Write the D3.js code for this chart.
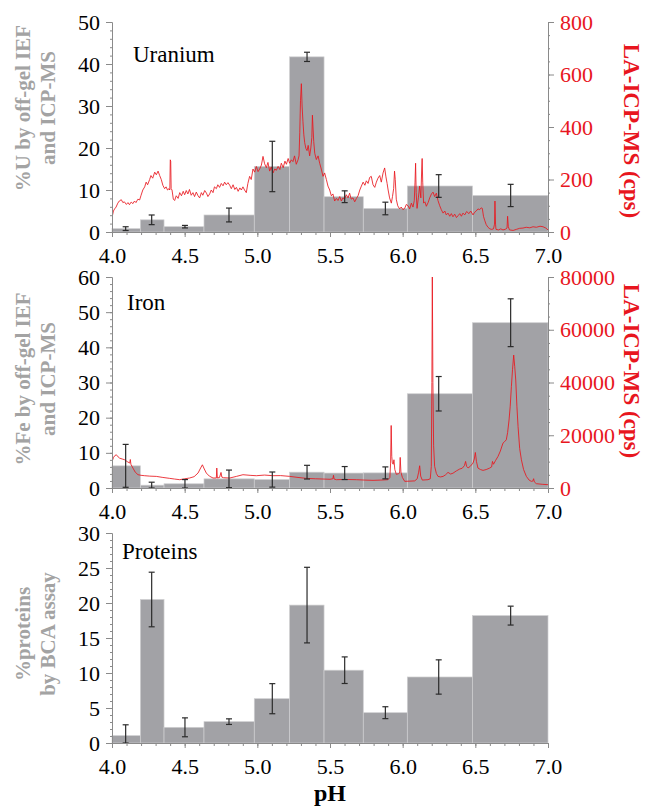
<!DOCTYPE html>
<html>
<head>
<meta charset="utf-8">
<style>
  body { margin: 0; background: #fff; }
  #chart text { font-family: "Liberation Serif", serif; }
</style>
</head>
<body>
<svg id="chart" width="645" height="806"></svg>
<script src="https://cdn.jsdelivr.net/npm/d3@7"></script>
<script>
// off-gel IEF fractions (pH edges of each fraction)
const binEdges = [4.0, 4.195, 4.358, 4.633, 4.979, 5.222, 5.459, 5.729, 6.032, 6.48, 7.0]
const errPH = [4.094, 4.273, 4.502, 4.805, 5.103, 5.342, 5.601, 5.881, 6.248, 6.743]

const uPercent = [0.8, 2.9, 1.27, 4.05, 15.6, 41.7, 8.4, 5.6, 10.95, 8.7]
const uErr = [0.45, 1.15, 0.3, 1.65, 6.0, 1.1, 1.4, 1.5, 2.7, 2.65]

const fePercent = [6.3, 0.8, 1.2, 2.6, 2.4, 4.5, 4.25, 4.3, 26.8, 47.0]
const feErr = [6.1, 0.85, 1.2, 2.5, 2.15, 1.95, 1.85, 1.7, 4.9, 6.8]

const protPercent = [1.05, 20.5, 2.24, 3.05, 6.33, 19.7, 10.4, 4.33, 9.43, 18.2]
const protErr = [1.55, 3.9, 1.35, 0.4, 2.15, 5.4, 1.9, 0.85, 2.45, 1.35]

const xTicks = [4.0, 4.5, 5.0, 5.5, 6.0, 6.5, 7.0]

// LA-ICP-MS scans [pH, cps]
const uTrace = [
  [4.000,55],[4.010,80],[4.018,88],[4.028,95],[4.040,110],[4.050,118],[4.064,123],[4.075,112],
  [4.085,115],[4.099,105],[4.110,112],[4.120,104],[4.132,114],[4.144,108],[4.155,118],[4.165,112],
  [4.178,125],[4.190,122],[4.200,140],[4.212,160],[4.225,172],[4.235,190],[4.245,180],[4.259,200],
  [4.268,215],[4.280,205],[4.294,228],[4.305,218],[4.317,232],[4.328,215],[4.339,200],[4.350,178],
  [4.362,165],[4.372,172],[4.382,160],[4.392,165],[4.398,160],[4.401,275],[4.404,270],[4.407,165],
  [4.413,160],[4.422,125],[4.431,120],[4.442,138],[4.455,128],[4.466,150],[4.478,138],[4.490,155],
  [4.500,142],[4.511,158],[4.522,145],[4.533,162],[4.545,140],[4.557,150],[4.568,135],[4.580,152],
  [4.592,138],[4.603,130],[4.615,150],[4.625,140],[4.638,158],[4.650,148],[4.660,135],[4.672,145],
  [4.683,160],[4.695,150],[4.705,172],[4.718,165],[4.728,180],[4.740,170],[4.752,185],[4.764,176],
  [4.775,190],[4.786,180],[4.798,188],[4.810,178],[4.821,165],[4.833,180],[4.845,162],[4.856,170],
  [4.868,155],[4.880,168],[4.890,160],[4.901,172],[4.912,160],[4.924,150],[4.935,185],[4.947,212],
  [4.958,200],[4.970,240],[4.982,228],[4.993,250],[5.005,230],[5.016,240],[5.028,255],[5.039,288],
  [5.050,260],[5.062,245],[5.073,265],[5.085,232],[5.096,248],[5.108,225],[5.120,240],[5.131,235],
  [5.143,250],[5.155,238],[5.165,262],[5.178,245],[5.190,270],[5.200,258],[5.212,280],[5.222,262],
  [5.234,275],[5.245,268],[5.256,290],[5.268,258],[5.280,275],[5.287,290],[5.292,380],[5.297,500],
  [5.303,565],[5.308,480],[5.314,420],[5.320,370],[5.326,340],[5.334,318],[5.342,310],[5.350,330],
  [5.360,290],[5.368,320],[5.375,360],[5.379,445],[5.383,400],[5.388,345],[5.395,300],[5.406,276],
  [5.418,290],[5.429,262],[5.440,240],[5.452,212],[5.463,225],[5.475,200],[5.486,175],[5.498,160],
  [5.509,138],[5.520,145],[5.532,118],[5.544,128],[5.555,120],[5.567,135],[5.578,118],[5.589,130],
  [5.600,125],[5.612,142],[5.624,130],[5.635,148],[5.646,125],[5.658,130],[5.670,115],[5.682,128],
  [5.693,138],[5.705,160],[5.716,175],[5.728,190],[5.740,178],[5.750,195],[5.762,185],[5.773,208],
  [5.784,212],[5.796,180],[5.808,170],[5.819,190],[5.830,205],[5.842,215],[5.853,190],[5.865,225],
  [5.876,244],[5.885,210],[5.893,185],[5.900,160],[5.910,130],[5.922,110],[5.930,135],[5.938,165],
  [5.944,232],[5.949,200],[5.956,125],[5.966,100],[5.979,88],[5.990,95],[6.002,85],[6.014,90],
  [6.025,105],[6.037,100],[6.048,88],[6.060,110],[6.071,95],[6.080,120],[6.085,190],[6.089,262],
  [6.093,150],[6.099,90],[6.108,130],[6.117,175],[6.125,130],[6.131,240],[6.134,280],[6.138,190],
  [6.144,110],[6.153,115],[6.163,98],[6.175,112],[6.186,130],[6.198,145],[6.209,152],[6.220,135],
  [6.232,148],[6.243,120],[6.255,100],[6.266,85],[6.278,72],[6.290,80],[6.300,65],[6.312,72],
  [6.324,60],[6.335,70],[6.346,58],[6.358,68],[6.370,55],[6.381,62],[6.393,70],[6.404,60],
  [6.415,72],[6.427,65],[6.440,78],[6.456,70],[6.468,80],[6.484,65],[6.495,75],[6.506,80],
  [6.518,88],[6.530,85],[6.540,92],[6.548,90],[6.556,60],[6.564,45],[6.575,28],[6.587,18],
  [6.600,12],[6.612,10],[6.625,12],[6.632,30],[6.635,118],[6.639,30],[6.642,10],[6.660,8],
  [6.675,12],[6.690,8],[6.705,10],[6.718,15],[6.722,60],[6.727,20],[6.735,8],[6.760,6],
  [6.782,10],[6.805,14],[6.828,15],[6.850,18],[6.875,16],[6.897,20],[6.920,18],[6.945,22],
  [6.966,20],[6.985,15],[7.000,8]
]

const feTrace = [
  [4.000,10000],[4.010,11500],[4.018,12200],[4.030,12600],[4.042,11800],[4.053,11300],[4.070,11000],
  [4.087,10700],[4.105,10000],[4.122,9450],[4.126,10800],[4.130,9000],[4.144,7560],[4.160,6000],
  [4.179,5040],[4.200,4800],[4.225,4660],[4.260,4500],[4.305,4400],[4.350,4000],[4.397,3650],
  [4.430,3400],[4.466,3150],[4.500,3500],[4.534,3780],[4.565,4300],[4.592,5670],[4.610,7600],
  [4.622,8800],[4.635,7200],[4.649,5670],[4.670,4500],[4.695,3780],[4.718,3800],[4.721,7560],
  [4.725,3800],[4.740,4000],[4.750,5900],[4.756,4100],[4.768,3900],[4.810,3780],[4.856,4400],
  [4.901,5040],[4.950,4800],[4.993,4660],[5.050,4900],[5.108,4660],[5.160,4700],[5.222,4410],
  [5.280,4000],[5.337,3650],[5.400,3500],[5.452,3400],[5.500,3300],[5.520,3500],[5.524,4800],
  [5.528,3400],[5.544,3150],[5.600,3250],[5.681,3150],[5.740,3000],[5.796,2900],[5.850,3000],
  [5.899,3150],[5.912,4000],[5.917,9450],[5.921,23700],[5.925,12000],[5.929,9450],[5.935,9000],
  [5.940,10700],[5.946,7000],[5.956,5200],[5.970,5400],[5.979,5670],[5.983,11600],[5.988,6000],
  [5.998,4000],[6.014,2520],[6.050,2600],[6.083,2700],[6.100,3500],[6.110,6000],[6.117,8440],
  [6.124,4500],[6.135,3000],[6.174,3150],[6.190,3500],[6.197,8190],[6.201,40000],[6.204,80000],
  [6.208,40000],[6.213,16000],[6.220,8190],[6.232,5500],[6.243,4410],[6.260,4200],[6.278,4400],
  [6.295,5000],[6.312,5920],[6.330,5300],[6.346,5600],[6.370,6500],[6.392,7180],[6.410,7500],
  [6.425,8500],[6.433,10080],[6.440,8200],[6.450,7600],[6.465,8200],[6.484,9450],[6.493,11000],
  [6.500,13480],[6.508,10000],[6.518,7560],[6.535,7000],[6.553,6680],[6.575,7000],[6.599,7560],
  [6.612,8000],[6.618,10080],[6.625,9000],[6.640,10500],[6.656,11970],[6.672,14000],[6.690,17000],
  [6.700,17500],[6.713,18270],[6.722,21000],[6.732,25800],[6.740,31000],[6.748,38430],[6.756,45000],
  [6.764,50400],[6.771,46000],[6.778,40950],[6.786,31000],[6.794,23310],[6.805,15000],[6.817,10700],
  [6.832,7000],[6.851,4410],[6.870,3000],[6.885,2520],[6.895,2600],[6.901,3530],[6.906,2300],
  [6.920,1640],[6.960,1400],[7.000,1260]
]

const serif = '"Liberation Serif"'
const svg = d3.select('#chart')
const x = d3.scaleLinear().domain([4, 7]).range([112, 548])

const panels = [
  { name: 'Uranium', top: 22, bottom: 232, yMax: 50, yStep: 10, yMinor: 2,
    values: uPercent, errs: uErr, trace: uTrace, rMax: 800, rStep: 200, rMinor: 50,
    title: ['%U by off-gel IEF', 'and ICP-MS'], titleY: 108, rTitleY: 131, labelPos: [133, 62] },
  { name: 'Iron', top: 277, bottom: 488, yMax: 60, yStep: 10, yMinor: 2,
    values: fePercent, errs: feErr, trace: feTrace, rMax: 80000, rStep: 20000, rMinor: 5000,
    title: ['%Fe by off-gel IEF', 'and ICP-MS'], titleY: 379, rTitleY: 371, labelPos: [127, 310] },
  { name: 'Proteins', top: 533, bottom: 743, yMax: 30, yStep: 5, yMinor: 1,
    values: protPercent, errs: protErr, trace: null,
    title: ['%proteins', 'by BCA assay'], titleY: 634, labelPos: [122, 559] }
]

const axisColor = '#8a8a8a'

function styleAxis(g, color) {
  g.attr('font-size', 22).attr('font-family', null)
  g.select('.domain').attr('stroke', axisColor).attr('stroke-width', 1)
  g.selectAll('.tick line').attr('stroke', axisColor)
  g.selectAll('.tick text').attr('fill', color).style('font-family', serif)
}

panels.forEach((p, i) => {
  const y = d3.scaleLinear().domain([0, p.yMax]).range([p.bottom, p.top])
  const g = svg.append('g')

  const clipId = 'clip' + i
  svg.append('clipPath').attr('id', clipId)
    .append('rect').attr('x', 112).attr('y', p.top).attr('width', 436).attr('height', p.bottom - p.top)

  // fraction bars
  g.selectAll('rect.bar').data(p.values).join('rect')
    .attr('class', 'bar')
    .attr('x', (d, j) => x(binEdges[j]))
    .attr('width', (d, j) => x(binEdges[j + 1]) - x(binEdges[j]))
    .attr('y', d => y(d))
    .attr('height', d => y(0) - y(d))
    .attr('fill', '#a2a2a6')
    .attr('stroke', '#cfcfd1')
    .attr('stroke-width', 0.7)

  // LA-ICP-MS trace on the right axis
  if (p.trace) {
    const yr = d3.scaleLinear().domain([0, p.rMax]).range([p.bottom, p.top])
    g.append('path')
      .datum(p.trace)
      .attr('clip-path', `url(#${clipId})`)
      .attr('fill', 'none')
      .attr('stroke', '#e8161e')
      .attr('stroke-width', 0.85)
      .attr('stroke-linejoin', 'round')
      .attr('d', d3.line().x(d => x(d[0])).y(d => yr(d[1])))

    const ra = g.append('g').attr('transform', 'translate(548,0)')
    ra.call(d3.axisRight(yr).tickValues(d3.range(0, p.rMax + 1, p.rMinor)).tickSize(2).tickFormat('').tickSizeOuter(0))
    styleAxis(ra, 'red')
    const rb = g.append('g').attr('transform', 'translate(548,0)')
    rb.call(d3.axisRight(yr).tickValues(d3.range(0, p.rMax + 1, p.rStep)).tickSize(6).tickPadding(6)
      .tickFormat(d3.format('d')).tickSizeOuter(0))
    styleAxis(rb, '#e8161e')

    g.append('text')
      .attr('transform', `translate(624,${p.rTitleY}) rotate(90)`)
      .attr('text-anchor', 'middle')
      .attr('font-size', 23).attr('font-weight', 'bold')
      .attr('fill', '#e8161e')
      .style('font-family', serif)
      .text('LA-ICP-MS (cps)')
  }

  // error bars
  const eb = g.selectAll('g.err').data(p.values).join('g').attr('class', 'err')
  const lo = (d, j) => y(Math.max(0, d - p.errs[j]))
  const hi = (d, j) => y(d + p.errs[j])
  eb.append('line')
    .attr('x1', (d, j) => x(errPH[j])).attr('x2', (d, j) => x(errPH[j]))
    .attr('y1', lo).attr('y2', hi)
  eb.append('line')
    .attr('x1', (d, j) => x(errPH[j]) - 3).attr('x2', (d, j) => x(errPH[j]) + 3)
    .attr('y1', hi).attr('y2', hi)
  eb.append('line')
    .attr('x1', (d, j) => x(errPH[j]) - 3).attr('x2', (d, j) => x(errPH[j]) + 3)
    .attr('y1', lo).attr('y2', lo)
  eb.selectAll('line').attr('stroke', '#2b2b2b').attr('stroke-width', 1.2)

  // left axis
  const la = g.append('g').attr('transform', 'translate(112,0)')
  la.call(d3.axisLeft(y).tickValues(d3.range(0, p.yMax + 0.001, p.yMinor)).tickSize(2).tickFormat('').tickSizeOuter(0))
  styleAxis(la, '#000')
  const lb = g.append('g').attr('transform', 'translate(112,0)')
  lb.call(d3.axisLeft(y).tickValues(d3.range(0, p.yMax + 0.001, p.yStep)).tickSize(6).tickPadding(6).tickSizeOuter(0))
  styleAxis(lb, '#000')

  // bottom axis
  const xa = g.append('g').attr('transform', `translate(0,${p.bottom})`)
  xa.call(d3.axisBottom(x).tickValues(d3.range(4, 7.001, 0.1)).tickSize(3).tickFormat('').tickSizeOuter(0))
  styleAxis(xa, '#000')
  const xb = g.append('g').attr('transform', `translate(0,${p.bottom})`)
  xb.call(d3.axisBottom(x).tickValues(xTicks).tickSize(5).tickPadding(10).tickFormat(d3.format('.1f')).tickSizeOuter(0))
  styleAxis(xb, '#000')

  // left title, two lines
  p.title.forEach((t, k) => {
    g.append('text')
      .attr('transform', `translate(${k === 0 ? 30 : 55},${p.titleY}) rotate(-90)`)
      .attr('text-anchor', 'middle')
      .attr('font-size', 21).attr('font-weight', 'bold')
      .attr('fill', '#a3a3a3')
      .style('font-family', serif)
      .text(t)
  })

  g.append('text')
    .attr('x', p.labelPos[0]).attr('y', p.labelPos[1])
    .attr('font-size', 23)
    .style('font-family', serif)
    .text(p.name)
})

svg.append('text')
  .attr('x', x(5.5)).attr('y', 801)
  .attr('text-anchor', 'middle')
  .attr('font-size', 24).attr('font-weight', 'bold')
  .style('font-family', serif)
  .text('pH')
</script>
</body>
</html>
